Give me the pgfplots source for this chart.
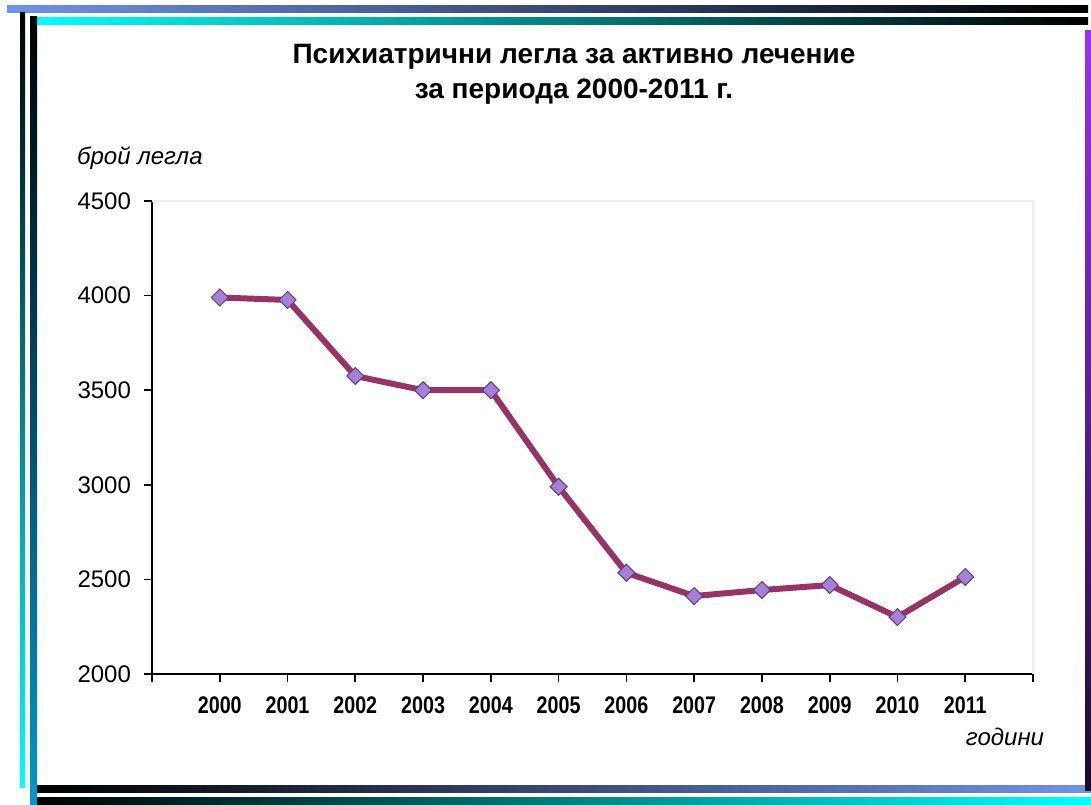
\documentclass[border=0pt]{standalone}
\usepackage{pgfplots}
\pgfplotsset{compat=1.18}
\usepackage{fontspec}
\setmainfont{Liberation Sans}
\newfontfamily\narrowfont[FakeStretch=0.82]{Liberation Sans}

\definecolor{linecol}{HTML}{993366}
\definecolor{markfill}{HTML}{A580D6}
\definecolor{markdraw}{HTML}{5E3C86}
\definecolor{bluebar}{HTML}{6E93EE}
\definecolor{tealbar}{HTML}{0099CC}
\definecolor{purplebar}{HTML}{9933F0}
\definecolor{darkpurple}{HTML}{1A0A2A}

\begin{document}
\begin{tikzpicture}
% page = 1091 x 804 px at 0.5pt per px
\useasboundingbox (0pt,0pt) rectangle (545.5pt,-402pt);

% frame decoration
\shade[left color=bluebar, right color=black] (3.5pt,-2.5pt) rectangle (544pt,-6pt);
\shade[left color=cyan, right color=black] (17pt,-8.5pt) rectangle (544pt,-12pt);
\shade[top color=black, bottom color=cyan] (10pt,-6pt) rectangle (12.5pt,-393.5pt);
\shade[top color=black, bottom color=tealbar] (15pt,-8pt) rectangle (18.5pt,-402pt);
\shade[left color=black, right color=bluebar] (18.5pt,-392.5pt) rectangle (545.5pt,-396pt);
\shade[left color=black, right color=cyan] (18.5pt,-398.5pt) rectangle (545.5pt,-402pt);
\shade[top color=purplebar, bottom color=darkpurple] (542.5pt,-15pt) rectangle (545.5pt,-395pt);

% title
\node[font=\fontsize{14}{16}\selectfont\bfseries] at (287pt,-28.5pt) {Психиатрични легла за активно лечение};
\node[font=\fontsize{14}{16}\selectfont\bfseries] at (287pt,-46pt) {за периода 2000-2011 г.};

\begin{axis}[
    at={(76pt,-337pt)},
    anchor=south west,
    scale only axis,
    width=440.5pt,
    height=236.5pt,
    xmin=1999, xmax=2012,
    ymin=2000, ymax=4500,
    axis lines*=left,
    axis line style={black, line width=0.8pt},
    tick align=outside,
    major tick length=4pt,
    tick style={black, line width=0.8pt},
    xtick={1999,2000,...,2012},
    xticklabels={,2000,2001,2002,2003,2004,2005,2006,2007,2008,2009,2010,2011,},
    ytick={2000,2500,...,4500},
    /pgf/number format/1000 sep={},
    /pgf/number format/assume math mode=true,
    yticklabel style={font=\fontsize{12}{14}\selectfont, xshift=-3pt},
    xticklabel style={font=\fontsize{12}{14}\selectfont\narrowfont\bfseries, yshift=-4pt},
    clip=false,
]
\draw[black!7, line width=0.8pt] (rel axis cs:0,1) -- (rel axis cs:1,1) -- (rel axis cs:1,0);
\addplot[linecol, line width=3pt, mark=square*,
    mark options={rotate=45, fill=markfill, draw=markdraw, line width=0.5pt, mark size=3pt}]
    coordinates {
    (2000,3990) (2001,3977) (2002,3575) (2003,3500) (2004,3500) (2005,2990)
    (2006,2535) (2007,2412) (2008,2444) (2009,2470) (2010,2301) (2011,2513)
};
\end{axis}

% axis titles
\node[font=\fontsize{12}{14}\selectfont\itshape, anchor=west] at (35pt,-79pt) {брой легла};
\node[font=\fontsize{12}{14}\selectfont\itshape] at (502.5pt,-368.5pt) {години};
\end{tikzpicture}
\end{document}
